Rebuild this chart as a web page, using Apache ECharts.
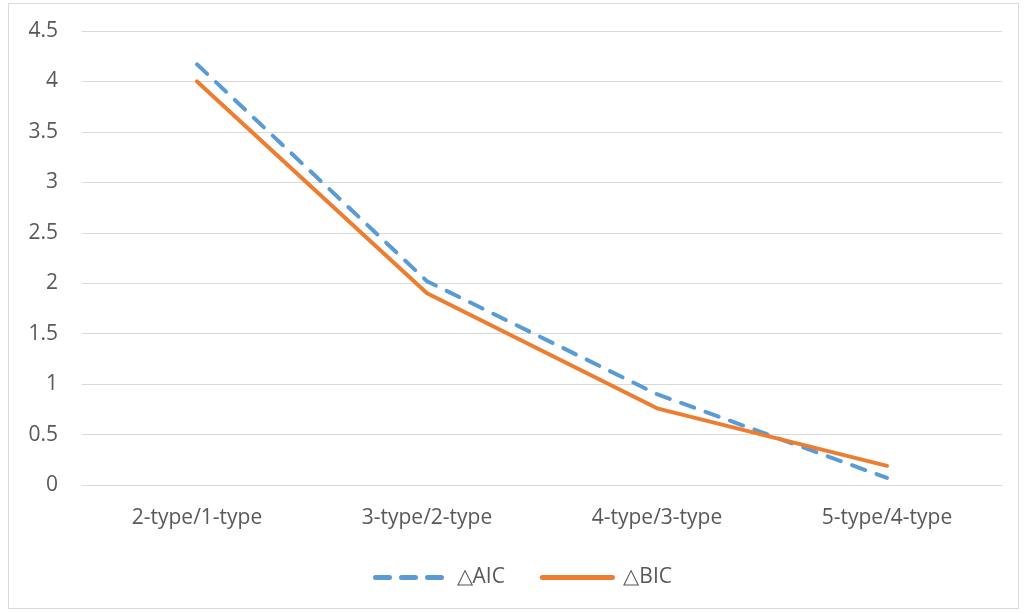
<!DOCTYPE html>
<html>
<head>
<meta charset="utf-8">
<script src="https://cdn.jsdelivr.net/npm/echarts@6/dist/echarts.min.js"></script>
<style>
  html, body { margin: 0; padding: 0; background: #fff; }
  #frame { position: absolute; left: 8px; top: 3px; width: 1011px; height: 606px; border: 1px solid #d9d9d9; box-sizing: border-box; }
  #chart { position: absolute; left: 0; top: 0; width: 1026px; height: 613px; }
</style>
</head>
<body>
<div id="frame"></div>
<div id="chart"></div>
<script>
// Model comparisons along the x axis
const categories = ['2-type/1-type', '3-type/2-type', '4-type/3-type', '5-type/4-type'];
// Change in information criteria between successive models
const deltaAIC = [4.17, 2.02, 0.9, 0.07];
const deltaBIC = [4.0, 1.9, 0.76, 0.19];
const yTicks = { min: 0, max: 4.5, interval: 0.5 };

const textColor = '#595959';
const font = '"Open Sans", sans-serif';

const chart = echarts.init(document.getElementById('chart'));
chart.setOption({
  animation: false,
  grid: { left: 82, right: 24, top: 31, bottom: 128 },
  xAxis: {
    type: 'category',
    data: categories,
    boundaryGap: true,
    axisLine: { show: true, lineStyle: { color: '#d9d9d9', width: 1 } },
    axisTick: { show: false },
    axisLabel: { color: textColor, fontSize: 21, fontFamily: font, margin: 23 }
  },
  yAxis: {
    type: 'value',
    min: yTicks.min,
    max: yTicks.max,
    interval: yTicks.interval,
    axisLine: { show: false },
    axisTick: { show: false },
    splitLine: { lineStyle: { color: '#d9d9d9', width: 1 } },
    axisLabel: { color: textColor, fontSize: 21, fontFamily: font, margin: 24 }
  },
  legend: {
    top: 562,
    left: 368,
    itemWidth: 70,
    itemHeight: 12,
    itemGap: 35,
    itemStyle: { opacity: 0 },
    lineStyle: { width: 5 },
    textStyle: { color: textColor, fontSize: 21, fontFamily: font, padding: [0, 0, 0, 6] },
    data: ['\u25B3AIC', '\u25B3BIC']
  },
  series: [
    {
      name: '\u25B3AIC',
      type: 'line',
      data: deltaAIC,
      symbol: 'none',
      lineStyle: { color: '#5b9bd5', width: 4, type: [14, 12], cap: 'round' },
      itemStyle: { color: '#5b9bd5' }
    },
    {
      name: '\u25B3BIC',
      type: 'line',
      data: deltaBIC,
      symbol: 'none',
      lineStyle: { color: '#ed7d31', width: 4, cap: 'round', join: 'round' },
      itemStyle: { color: '#ed7d31' }
    }
  ]
});
</script>
</body>
</html>
